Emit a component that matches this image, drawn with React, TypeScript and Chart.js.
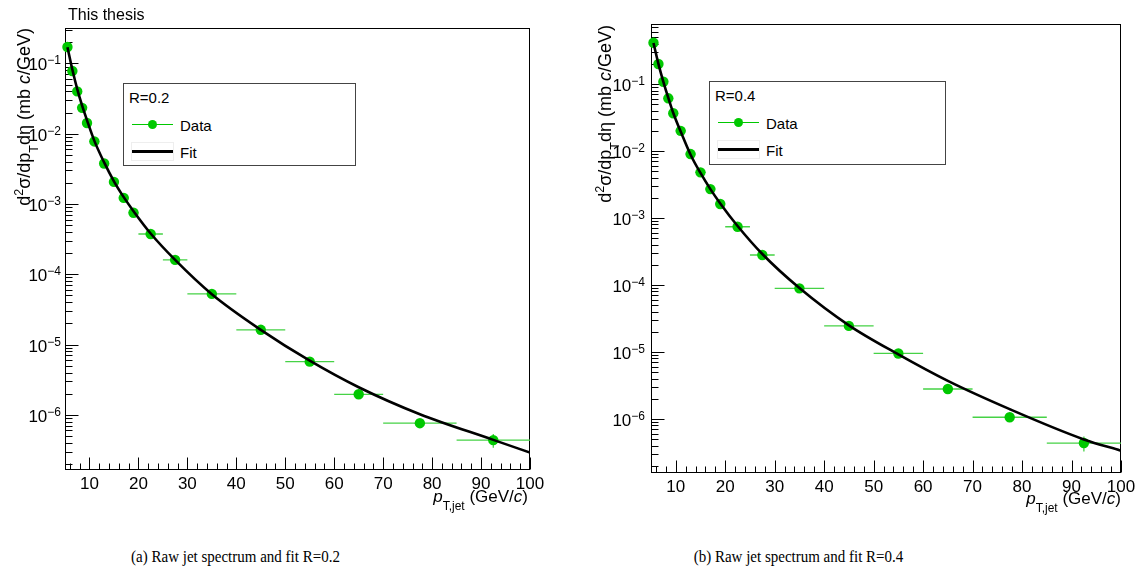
import React, { useEffect, useRef } from 'react';
import { Chart, registerables } from 'chart.js';

Chart.register(...registerables);

// ---------------- data ----------------
const binLow = [5, 6, 7, 8, 9, 10, 12, 14, 16, 18, 20, 25, 30, 40, 50, 60, 70, 85];
const binHigh = [6, 7, 8, 9, 10, 12, 14, 16, 18, 20, 25, 30, 40, 50, 60, 70, 85, 100];
const binCenter = [5.5, 6.5, 7.5, 8.5, 9.5, 11, 13, 15, 17, 19, 22.5, 27.5, 35, 45, 55, 65, 77.5, 92.5];

const dataR02 = [0.171, 0.078, 0.040, 0.0233, 0.0142, 0.00776, 0.00377, 0.00206, 0.00122, 0.00075, 3.74e-4, 1.6e-4, 5.25e-5, 1.62e-5, 5.71e-6, 1.96e-6, 7.6e-7, 4.36e-7];
const errR02 = [0.002, 0.001, 0.0005, 0.0003, 0.0002, 0.0001, 0.00005, 0.00003, 0.00002, 0.00001, 5e-6, 3e-6, 1e-6, 4e-7, 2.5e-7, 1.5e-7, 1.1e-7, 0.96e-7];

const dataR04 = [0.413, 0.199, 0.108, 0.0612, 0.0366, 0.020, 0.0090, 0.0048, 0.0027, 0.00162, 7.4e-4, 2.8e-4, 8.9e-5, 2.45e-5, 9.5e-6, 2.8e-6, 1.06e-6, 4.37e-7];
const errR04 = [0.004, 0.002, 0.001, 0.0006, 0.0004, 0.0002, 0.0001, 0.00005, 0.00003, 0.00002, 8e-6, 4e-6, 1.5e-6, 5e-7, 3e-7, 1.5e-7, 1.2e-7, 1.1e-7];

const fitX = [5.5, 6.5, 7.5, 8.5, 9.5, 11, 13, 15, 17, 19, 22.5, 27.5, 35, 45, 55, 65, 77.5, 92.5, 100];
const fitR02 = [0.17, 0.082, 0.043, 0.025, 0.0155, 0.0079, 0.0039, 0.0021, 0.00125, 0.00079, 3.8e-4, 1.6e-4, 5.2e-5, 1.62e-5, 5.9e-6, 2.47e-6, 1.02e-6, 4.4e-7, 2.9e-7];
const fitR04 = [0.41, 0.2, 0.108, 0.062, 0.037, 0.0195, 0.0088, 0.0047, 0.0027, 0.00165, 7.6e-4, 2.9e-4, 9.0e-5, 2.5e-5, 9.2e-6, 3.7e-6, 1.4e-6, 4.95e-7, 3.35e-7];

const xTickValues = [10, 20, 30, 40, 50, 60, 70, 80, 90, 100];
const xRange = [5, 100];
const yRangeR02 = [1.64e-7, 0.319];
const yRangeR04 = [1.56e-7, 0.787];

// ---------------- styling ----------------
const SANS = "'Liberation Sans', Arial, Helvetica, sans-serif";
const SERIF = "'Liberation Serif', 'Times New Roman', serif";
const GREEN = '#00c800';
const GREEN_ERR = '#46d246';

function errorBarPoints(values: number[], errs: number[]) {
  const pts: { x: number; y: number | null }[] = [];
  for (let i = 0; i < values.length; i++) {
    pts.push({ x: binLow[i], y: values[i] }, { x: binHigh[i], y: values[i] }, { x: binHigh[i], y: null });
    pts.push({ x: binCenter[i], y: values[i] - errs[i] }, { x: binCenter[i], y: values[i] + errs[i] }, { x: binCenter[i], y: null });
  }
  return pts;
}

function rootPlugin(labelGap: number) {
  return {
    id: 'rootFrame',
    beforeDatasetsDraw(chart: any) {
      const { ctx, chartArea: a } = chart;
      const x = chart.scales.x;
      const y = chart.scales.y;
      ctx.save();
      ctx.strokeStyle = '#000';
      ctx.lineWidth = 1;
      const L = Math.round(a.left) + 0.5;
      const R = Math.round(a.right) - 0.5;
      const T = Math.round(a.top) + 0.5;
      const B = Math.round(a.bottom) - 0.5;
      ctx.strokeRect(L, T, R - L, B - T);
      ctx.beginPath();
      for (let v = Math.ceil(x.min / 2) * 2; v <= x.max; v += 2) {
        const px = Math.round(x.getPixelForValue(v)) + 0.5;
        const len = v % 10 === 0 ? 12 : 6;
        ctx.moveTo(px, B);
        ctx.lineTo(px, B - len);
      }
      const nMin = Math.floor(Math.log10(y.min));
      const nMax = Math.ceil(Math.log10(y.max));
      for (let n = nMin; n <= nMax; n++) {
        for (let k = 1; k <= 9; k++) {
          const v = k * Math.pow(10, n);
          if (v < y.min || v > y.max) continue;
          const py = Math.round(y.getPixelForValue(v)) + 0.5;
          ctx.moveTo(L, py);
          ctx.lineTo(L + (k === 1 ? 13 : 7), py);
        }
      }
      ctx.stroke();
      // y labels 10^n
      ctx.fillStyle = '#000';
      ctx.textAlign = 'left';
      ctx.textBaseline = 'alphabetic';
      for (let n = nMin; n <= nMax; n++) {
        const v = Math.pow(10, n);
        if (v < y.min || v > y.max) continue;
        const py = y.getPixelForValue(v);
        const exp = n < 0 ? '\u2212' + -n : String(n);
        ctx.font = `17px ${SANS}`;
        const w1 = ctx.measureText('10').width;
        ctx.font = `12px ${SANS}`;
        const w2 = ctx.measureText(exp).width;
        const right = a.left - labelGap;
        ctx.font = `17px ${SANS}`;
        ctx.fillText('10', right - w2 - w1, py + 7);
        ctx.font = `12px ${SANS}`;
        ctx.fillText(exp, right - w2, py + 1);
      }
      ctx.restore();
    },
  };
}

function makeConfig(opts: {
  values: number[];
  errs: number[];
  fit: number[];
  yRange: number[];
  padding: { left: number; top: number; right: number; bottom: number };
  yWidth: number;
  xHeight: number;
  xPad: number;
  labelGap: number;
}): any {
  return {
    type: 'scatter',
    data: {
      datasets: [
        {
          label: 'Fit',
          type: 'line',
          data: fitX.map((x, i) => ({ x, y: opts.fit[i] })),
          borderColor: '#000',
          borderWidth: 2.6,
          pointRadius: 0,
          showLine: true,
          fill: false,
          cubicInterpolationMode: 'monotone',
          order: 0,
        },
        {
          label: 'Data',
          data: binCenter.map((x, i) => ({ x, y: opts.values[i] })),
          backgroundColor: GREEN,
          borderColor: GREEN,
          borderWidth: 0,
          pointRadius: 5.2,
          pointStyle: 'circle',
          showLine: false,
          clip: false,
          order: 1,
        },
        {
          label: 'errors',
          type: 'line',
          data: errorBarPoints(opts.values, opts.errs),
          borderColor: GREEN_ERR,
          borderWidth: 1.3,
          pointRadius: 0,
          showLine: true,
          spanGaps: false,
          fill: false,
          tension: 0,
          order: 2,
        },
      ],
    },
    options: {
      animation: false,
      responsive: false,
      devicePixelRatio: 1,
      events: [],
      layout: { padding: opts.padding },
      plugins: { legend: { display: false }, tooltip: { enabled: false }, title: { display: false } },
      scales: {
        x: {
          type: 'linear',
          min: xRange[0],
          max: xRange[1],
          grid: { display: false },
          border: { display: false },
          afterBuildTicks: (s: any) => {
            s.ticks = xTickValues.map((v) => ({ value: v }));
          },
          afterFit: (s: any) => {
            s.height = opts.xHeight;
          },
          ticks: {
            font: { family: SANS, size: 17 },
            color: '#000',
            padding: opts.xPad,
            maxRotation: 0,
            autoSkip: false,
          },
        },
        y: {
          type: 'logarithmic',
          min: opts.yRange[0],
          max: opts.yRange[1],
          grid: { display: false },
          border: { display: false },
          ticks: { display: false },
          afterFit: (s: any) => {
            s.width = opts.yWidth;
          },
        },
      },
    },
    plugins: [rootPlugin(opts.labelGap)],
  };
}

const sup: React.CSSProperties = { fontSize: 12.5, position: 'relative', top: -7 };
const sub: React.CSSProperties = { fontSize: 12.5, position: 'relative', top: 8 };

function YTitle({ left, end }: { left: number; end: number }) {
  return (
    <div
      style={{
        position: 'absolute',
        left,
        top: end + 400,
        width: 400,
        height: 20,
        transformOrigin: '0 0',
        transform: 'rotate(-90deg)',
        textAlign: 'right',
        font: `18px ${SANS}`,
        lineHeight: '18px',
        whiteSpace: 'nowrap',
        color: '#000',
      }}
    >
      d<span style={sup}>2</span>σ/dp<span style={sub}>T</span>dη (mb <i>c</i>/GeV)
    </div>
  );
}

function XTitle({ right, baseline }: { right: number; baseline: number }) {
  return (
    <div
      style={{
        position: 'absolute',
        left: right - 300,
        top: baseline - 14.4,
        width: 300,
        textAlign: 'right',
        font: `17px ${SANS}`,
        lineHeight: '17px',
        whiteSpace: 'nowrap',
        color: '#000',
      }}
    >
      <i>p</i>
      <span style={{ fontSize: 12, position: 'relative', top: 8 }}>T,jet</span> (GeV/<i>c</i>)
    </div>
  );
}

function Legend({ left, top, width, height, label }: { left: number; top: number; width: number; height: number; label: string }) {
  const txt: React.CSSProperties = { position: 'absolute', font: `15px ${SANS}`, lineHeight: '17px', whiteSpace: 'nowrap', color: '#000' };
  return (
    <div
      style={{
        position: 'absolute',
        left,
        top,
        width,
        height,
        border: '1px solid #444',
        boxSizing: 'border-box',
        background: '#fff',
      }}
    >
      <div style={{ ...txt, left: 5, top: 5 }}>{label}</div>
      <div style={{ position: 'absolute', left: 8, top: 40, width: 41, height: 1, background: GREEN }} />
      <div style={{ position: 'absolute', left: 24, top: 36, width: 9, height: 9, borderRadius: '50%', background: GREEN }} />
      <div style={{ ...txt, left: 56, top: 32.5 }}>Data</div>
      <div style={{ position: 'absolute', left: 7, top: 58, width: 43, height: 19, border: '1px solid #eee', boxSizing: 'border-box' }} />
      <div style={{ position: 'absolute', left: 8, top: 66, width: 41, height: 3, background: '#000' }} />
      <div style={{ ...txt, left: 56, top: 59.5 }}>Fit</div>
    </div>
  );
}

function Caption({ center, text }: { center: number; text: string }) {
  return (
    <div
      style={{
        position: 'absolute',
        left: center - 250,
        width: 500,
        top: 549,
        textAlign: 'center',
        font: `15px ${SERIF}`,
        lineHeight: '15px',
        whiteSpace: 'nowrap',
        color: '#000',
        transform: 'scaleY(1.15)',
        transformOrigin: '50% 50%',
      }}
    >
      {text}
    </div>
  );
}

export default function App() {
  const leftRef = useRef<HTMLCanvasElement>(null);
  const rightRef = useRef<HTMLCanvasElement>(null);

  useEffect(() => {
    const c1 = new Chart(
      leftRef.current as HTMLCanvasElement,
      makeConfig({
        values: dataR02,
        errs: errR02,
        fit: fitR02,
        yRange: yRangeR02,
        padding: { left: 0, top: 28, right: 40, bottom: 0 },
        yWidth: 65,
        xHeight: 50,
        xPad: -4,
        labelGap: 4,
      })
    );
    const c2 = new Chart(
      rightRef.current as HTMLCanvasElement,
      makeConfig({
        values: dataR04,
        errs: errR04,
        fit: fitR04,
        yRange: yRangeR04,
        padding: { left: 0, top: 24, right: 18, bottom: 0 },
        yWidth: 81,
        xHeight: 47,
        xPad: -4,
        labelGap: 6,
      })
    );
    return () => {
      c1.destroy();
      c2.destroy();
    };
  }, []);

  return (
    <div style={{ position: 'absolute', left: 0, top: 0, width: 1139, height: 574, background: '#fff', overflow: 'hidden' }}>
      <canvas ref={leftRef} width={570} height={520} style={{ position: 'absolute', left: 0, top: 0, width: 570, height: 520 }} />
      <canvas ref={rightRef} width={569} height={520} style={{ position: 'absolute', left: 570, top: 0, width: 569, height: 520 }} />
      <div style={{ position: 'absolute', left: 68, top: 6.5, font: `16px ${SANS}`, lineHeight: '16px', whiteSpace: 'nowrap', color: '#000' }}>
        This thesis
      </div>
      <YTitle left={15} end={28} />
      <YTitle left={596} end={25} />
      <XTitle right={528} baseline={502} />
      <XTitle right={1121} baseline={504} />
      <Legend left={123} top={83} width={233} height={83} label="R=0.2" />
      <Legend left={709} top={81} width={237} height={84} label="R=0.4" />
      <Caption center={235.5} text="(a) Raw jet spectrum and fit R=0.2" />
      <Caption center={798.5} text="(b) Raw jet spectrum and fit R=0.4" />
    </div>
  );
}
